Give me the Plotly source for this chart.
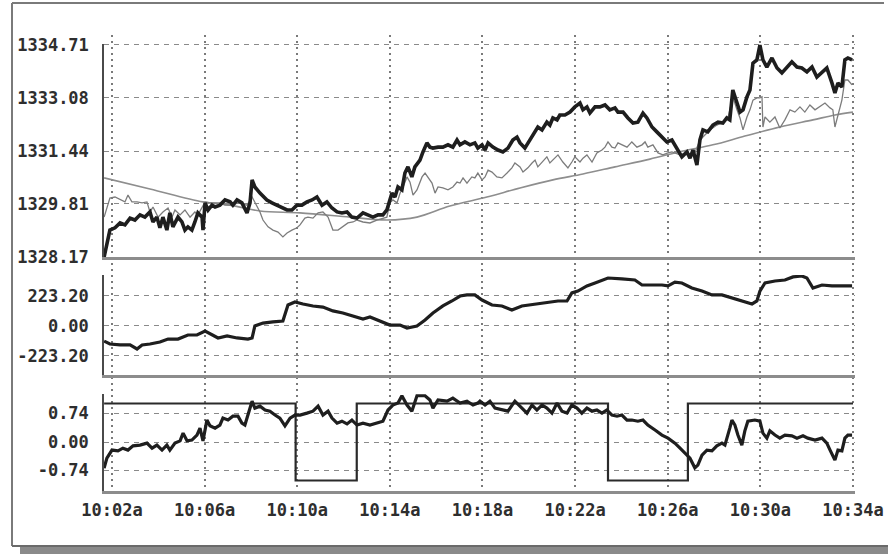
import plotly.graph_objects as go

# ---------------------------------------------------------------------------
# Session data: time axis in minutes after 10:00
# ---------------------------------------------------------------------------
price_t = [1.66, 1.78, 1.91, 2.13, 2.35, 2.56, 2.78, 2.99, 3.21, 3.42, 3.64, 3.77,
           3.94, 4.07, 4.20, 4.37, 4.50, 4.63, 4.85, 5.02, 5.15, 5.28, 5.45, 5.58,
           5.71, 5.89, 5.93, 6.02, 6.15, 6.32, 6.45, 6.66, 6.88, 7.10, 7.22, 7.40,
           7.61, 7.83, 7.96, 8.05, 8.17, 8.39, 8.69, 8.91, 9.12, 9.34, 9.56, 9.77,
           9.99, 10.20, 10.42, 10.64, 10.85, 11.07, 11.28, 11.50, 11.72, 11.93, 12.15,
           12.36, 12.58, 12.84, 13.05, 13.27, 13.49, 13.70, 13.87, 14.09, 14.22, 14.35,
           14.52, 14.65, 14.78, 14.95, 15.08, 15.30, 15.43, 15.60, 15.73, 15.86, 16.08,
           16.29, 16.51, 16.72, 16.90, 17.03, 17.24, 17.46, 17.67, 17.80, 17.98, 18.11,
           18.24, 18.45, 18.67, 18.88, 19.10, 19.31, 19.49, 19.62, 19.83, 20.05, 20.27,
           20.39, 20.57, 20.78, 20.91, 21.04, 21.22, 21.34, 21.56, 21.78, 21.99, 22.21,
           22.34, 22.51, 22.64, 22.86, 23.07, 23.29, 23.50, 23.72, 23.85, 24.07, 24.28,
           24.50, 24.71, 24.93, 25.10, 25.32, 25.53, 25.75, 25.96, 26.18, 26.40, 26.61,
           26.83, 26.96, 27.09, 27.26, 27.39, 27.52, 27.73, 27.95, 28.17, 28.38, 28.55,
           28.68, 28.81, 28.99, 29.12, 29.25, 29.42, 29.55, 29.68, 29.85, 29.98, 30.11,
           30.28, 30.50, 30.72, 30.93, 31.15, 31.36, 31.58, 31.79, 32.01, 32.23, 32.44,
           32.66, 32.87, 33.09, 33.22, 33.35, 33.52, 33.65, 33.78, 33.96]
price_v = [1328.17, 1328.60, 1329.00, 1329.07, 1329.22, 1329.16, 1329.37, 1329.31,
           1329.47, 1329.40, 1329.56, 1329.25, 1329.40, 1329.07, 1329.40, 1329.00,
           1329.53, 1329.10, 1329.40, 1329.25, 1329.00, 1329.10, 1329.00, 1329.25,
           1329.53, 1329.40, 1329.00, 1329.84, 1329.62, 1329.77, 1329.71, 1329.77,
           1329.93, 1329.87, 1329.77, 1329.93, 1329.84, 1329.53, 1329.84, 1330.55,
           1330.33, 1330.14, 1329.93, 1329.84, 1329.77, 1329.71, 1329.62, 1329.62,
           1329.77, 1329.77, 1329.87, 1329.93, 1330.02, 1329.77, 1329.87, 1329.68,
           1329.56, 1329.53, 1329.56, 1329.40, 1329.37, 1329.53, 1329.47, 1329.40,
           1329.47, 1329.47, 1329.62, 1330.14, 1330.02, 1330.33, 1330.24, 1330.76,
           1330.95, 1330.64, 1330.95, 1331.16, 1331.41, 1331.69, 1331.56, 1331.53,
           1331.56, 1331.56, 1331.63, 1331.56, 1331.78, 1331.63, 1331.72, 1331.63,
           1331.69, 1331.53, 1331.63, 1331.47, 1331.69, 1331.56, 1331.47, 1331.41,
           1331.53, 1331.78, 1331.87, 1331.69, 1331.53, 1331.78, 1332.00, 1332.18,
           1332.09, 1332.33, 1332.24, 1332.46, 1332.40, 1332.55, 1332.55, 1332.64,
           1332.80, 1332.92, 1332.71, 1332.80, 1332.61, 1332.80, 1332.80, 1332.86,
           1332.71, 1332.77, 1332.64, 1332.64, 1332.46, 1332.30, 1332.33, 1332.61,
           1332.46, 1332.18, 1332.03, 1331.87, 1331.72, 1331.78, 1331.53, 1331.26,
           1331.41, 1331.22, 1331.47, 1331.01, 1331.78, 1332.09, 1332.03, 1332.24,
           1332.33, 1332.30, 1332.46, 1332.40, 1333.32, 1332.95, 1332.64, 1332.71,
           1333.11, 1333.32, 1334.15, 1334.25, 1334.71, 1334.25, 1334.03, 1334.31,
           1334.00, 1333.85, 1334.03, 1334.19, 1334.03, 1334.00, 1333.88, 1334.03,
           1333.72, 1333.88, 1334.00, 1333.54, 1333.23, 1333.54, 1333.41, 1334.25,
           1334.31, 1334.25]

fast_t = [1.66, 1.78, 1.91, 2.13, 2.35, 2.56, 2.69, 2.86, 3.08, 3.30, 3.51, 3.64,
          3.77, 3.99, 4.20, 4.42, 4.59, 4.72, 4.94, 5.15, 5.37, 5.58, 5.71, 5.89,
          6.02, 6.23, 6.45, 6.66, 6.88, 7.18, 7.44, 7.83, 8.05, 8.26, 8.39, 8.52,
          8.74, 8.95, 9.17, 9.38, 9.56, 9.77, 9.99, 10.12, 10.33, 10.46, 10.68, 10.90,
          11.11, 11.33, 11.54, 11.76, 11.97, 12.19, 12.41, 12.58, 12.84, 13.14, 13.44,
          13.70, 13.87, 14.00, 14.13, 14.31, 14.44, 14.57, 14.74, 14.87, 15.00, 15.17,
          15.39, 15.52, 15.65, 15.82, 15.95, 16.08, 16.29, 16.51, 16.72, 16.90, 17.03,
          17.16, 17.33, 17.54, 17.67, 17.80, 17.98, 18.11, 18.24, 18.41, 18.62, 18.84,
          19.06, 19.27, 19.40, 19.62, 19.75, 19.96, 20.14, 20.27, 20.39, 20.57, 20.78,
          20.91, 21.13, 21.26, 21.47, 21.69, 21.86, 21.99, 22.21, 22.34, 22.51, 22.73,
          22.94, 23.16, 23.29, 23.42, 23.59, 23.72, 23.85, 24.02, 24.24, 24.45, 24.67,
          24.89, 25.02, 25.14, 25.36, 25.58, 25.79, 26.01, 26.18, 26.53, 26.74, 26.96,
          27.17, 27.39, 27.52, 27.82, 28.12, 28.38, 28.60, 28.81, 28.99, 29.12, 29.25,
          29.42, 29.55, 29.68, 29.85, 29.98, 30.07, 30.11, 30.20, 30.41, 30.63, 30.84,
          31.06, 31.28, 31.49, 31.71, 31.92, 32.14, 32.36, 32.57, 32.79, 33.01, 33.13,
          33.22, 33.35, 33.52, 33.65, 33.78, 33.96]
fast_v = [1329.40, 1329.71, 1329.99, 1330.02, 1329.93, 1329.87, 1330.08, 1329.87,
          1329.87, 1329.84, 1329.87, 1329.56, 1329.71, 1329.40, 1329.56, 1329.68,
          1329.40, 1329.62, 1329.47, 1329.62, 1329.40, 1329.56, 1329.47, 1329.71,
          1329.87, 1329.84, 1329.84, 1329.84, 1329.77, 1329.77, 1329.84, 1329.77,
          1330.02, 1329.71, 1329.56, 1329.31, 1329.10, 1329.00, 1328.94, 1328.79,
          1328.91, 1329.00, 1329.07, 1329.16, 1329.37, 1329.40, 1329.37, 1329.53,
          1329.56, 1329.40, 1329.00, 1329.00, 1329.10, 1329.22, 1329.25, 1329.31,
          1329.25, 1329.22, 1329.31, 1329.37, 1329.40, 1329.84, 1329.93, 1329.84,
          1330.14, 1330.33, 1330.64, 1330.48, 1330.08, 1330.24, 1330.64, 1330.76,
          1330.64, 1330.45, 1330.14, 1330.33, 1330.30, 1330.24, 1330.33, 1330.48,
          1330.45, 1330.61, 1330.45, 1330.64, 1330.61, 1330.76, 1330.55, 1330.64,
          1330.85, 1330.79, 1330.64, 1330.61, 1330.76, 1330.92, 1331.07, 1330.95,
          1330.79, 1330.92, 1331.07, 1331.16, 1330.95, 1331.10, 1331.26, 1331.07,
          1331.22, 1331.32, 1331.10, 1330.92, 1331.10, 1331.26, 1331.10, 1331.22,
          1331.32, 1331.10, 1331.38, 1331.47, 1331.56, 1331.72, 1331.56, 1331.53,
          1331.69, 1331.63, 1331.56, 1331.72, 1331.56, 1331.63, 1331.72, 1331.56,
          1331.63, 1331.38, 1331.32, 1331.38, 1331.41, 1331.32, 1331.38, 1331.26,
          1331.38, 1331.78, 1331.87, 1332.09, 1332.24, 1332.33, 1332.46, 1333.11,
          1332.71, 1332.46, 1332.09, 1332.49, 1332.71, 1333.01, 1333.08, 1333.08,
          1333.11, 1332.18, 1332.49, 1332.33, 1332.49, 1332.15, 1332.40, 1332.71,
          1332.64, 1332.80, 1332.64, 1332.86, 1332.71, 1332.80, 1332.92, 1332.77,
          1332.71, 1332.18, 1332.55, 1333.01, 1333.63, 1333.63, 1333.48]

slow_t = [1.66, 3.64, 5.93, 7.10, 8.39, 10.12, 12.28, 13.87, 15.17, 16.59, 18.19,
          19.62, 21.04, 22.34, 23.72, 25.23, 26.66, 27.95, 29.33, 30.84, 32.27, 33.22,
          34.00]
slow_v = [1330.61, 1330.27, 1329.87, 1329.77, 1329.59, 1329.53, 1329.40, 1329.31,
          1329.40, 1329.74, 1330.02, 1330.30, 1330.55, 1330.73, 1330.95, 1331.19,
          1331.44, 1331.63, 1331.90, 1332.18, 1332.40, 1332.55, 1332.64]

flow_t = [1.66, 1.91, 2.35, 2.78, 3.08, 3.30, 3.64, 4.07, 4.42, 4.85, 5.28, 5.67,
          6.02, 6.32, 6.58, 6.97, 7.40, 7.87, 8.05, 8.17, 8.52, 8.95, 9.38, 9.60,
          9.90, 10.25, 10.68, 11.11, 11.54, 11.97, 12.41, 12.84, 13.14, 13.57, 14.00,
          14.44, 14.74, 15.17, 15.52, 15.86, 16.29, 16.68, 17.03, 17.33, 17.67, 17.98,
          18.41, 18.84, 19.27, 19.70, 20.27, 20.83, 21.26, 21.65, 21.86, 22.12, 22.51,
          22.86, 23.42, 24.02, 24.58, 24.89, 25.32, 25.75, 26.01, 26.31, 26.61, 27.04,
          27.48, 27.91, 28.34, 28.77, 29.20, 29.64, 29.85, 29.98, 30.20, 30.63, 31.06,
          31.41, 31.79, 32.01, 32.27, 32.66, 33.09, 33.52, 33.96]
flow_v = [-112, -134, -141, -141, -171, -141, -134, -119, -97, -97, -67, -67,
          -37, -67, -89, -74, -89, -97, -89, 0, 22, 30, 37, 156,
          179, 164, 149, 141, 112, 97, 74, 52, 67, 37, 7,
          7, -15, 0, 45, 97, 149, 186, 223, 231, 231, 193,
          156, 149, 119, 149, 164, 179, 186, 186, 246, 260, 298,
          320, 357, 350, 342, 305, 305, 305, 298, 327, 320, 283,
          260, 231, 231, 208, 186, 164, 186, 260, 320, 335, 342,
          365, 372, 357, 283, 305, 298, 298, 298]

osc_t = [1.66, 1.78, 2.00, 2.26, 2.47, 2.69, 2.91, 3.21, 3.51, 3.73, 3.94, 4.16,
         4.37, 4.50, 4.72, 4.94, 5.07, 5.24, 5.45, 5.67, 5.80, 5.93, 6.10, 6.23,
         6.45, 6.66, 6.79, 7.01, 7.22, 7.44, 7.61, 7.74, 7.87, 8.05, 8.17, 8.39,
         8.61, 8.82, 9.04, 9.25, 9.47, 9.69, 9.90, 10.12, 10.42, 10.68, 10.90, 11.11,
         11.33, 11.50, 11.72, 11.93, 12.15, 12.36, 12.58, 12.84, 13.14, 13.44, 13.70,
         13.92, 14.13, 14.35, 14.52, 14.74, 14.95, 15.17, 15.52, 15.73, 15.86, 16.08,
         16.47, 16.72, 17.03, 17.33, 17.59, 17.80, 17.89, 18.11, 18.32, 18.54, 18.84,
         19.10, 19.40, 19.70, 19.92, 20.14, 20.35, 20.57, 20.78, 21.00, 21.22, 21.43,
         21.65, 21.86, 22.08, 22.29, 22.51, 22.73, 22.94, 23.16, 23.37, 23.59, 23.81,
         24.02, 24.24, 24.45, 24.71, 24.93, 25.14, 25.45, 25.75, 26.01, 26.31, 26.53,
         26.74, 26.96, 27.17, 27.30, 27.48, 27.69, 27.91, 28.12, 28.34, 28.47, 28.68,
         28.77, 28.90, 29.03, 29.20, 29.33, 29.46, 29.76, 29.98, 30.11, 30.28, 30.41,
         30.63, 30.84, 31.06, 31.36, 31.58, 31.84, 32.05, 32.36, 32.66, 32.87, 33.01,
         33.22, 33.35, 33.52, 33.65, 33.78, 33.96]
osc_v = [-0.68, -0.42, -0.21, -0.23, -0.16, -0.21, -0.10, -0.08, -0.03, -0.16, -0.08, -0.21,
         -0.08, -0.21, -0.03, 0.03, 0.23, 0.03, 0.05, 0.18, 0.36, 0.03, 0.57, 0.42,
         0.36, 0.44, 0.62, 0.57, 0.67, 0.67, 0.49, 0.44, 0.70, 1.06, 0.88, 0.93,
         0.83, 0.80, 0.70, 0.62, 0.42, 0.62, 0.70, 0.70, 0.75, 0.80, 0.93, 0.70,
         0.80, 0.62, 0.49, 0.54, 0.47, 0.57, 0.44, 0.49, 0.44, 0.49, 0.54,
         0.83, 0.96, 1.01, 1.20, 0.96, 0.80, 1.20, 1.20, 1.09, 0.88, 1.09,
         1.06, 1.14, 1.01, 1.06, 0.96, 1.01, 1.06, 0.96, 1.06, 0.88, 0.83,
         0.80, 1.06, 0.88, 0.75, 0.96, 0.83, 0.96, 0.88, 0.75, 1.01, 0.80,
         0.75, 0.96, 0.88, 0.75, 0.88, 0.80, 0.83, 0.75, 0.83, 0.70, 0.67,
         0.70, 0.57, 0.57, 0.54, 0.57, 0.44, 0.31, 0.18, 0.10, -0.03, -0.16,
         -0.29, -0.42, -0.67, -0.60, -0.34, -0.21, -0.23, -0.10, -0.03, -0.08, 0.36,
         0.57, 0.44, 0.18, -0.08, 0.29, 0.54, 0.57, 0.54, 0.23, 0.10, 0.29,
         0.18, 0.10, 0.18, 0.16, 0.10, 0.16, 0.10, 0.05, 0.10, -0.03, -0.21,
         -0.47, -0.21, -0.23, 0.10, 0.18, 0.18]

# long/short regime (+1 / -1), held until the next switch
state_t = [1.66, 9.93, 12.57, 23.42, 26.87, 34.00]
state_v = [1, -1, 1, -1, 1, 1]

time_ticks = [2, 6, 10, 14, 18, 22, 26, 30, 34]
time_labels = ["10:02a", "10:06a", "10:10a", "10:14a", "10:18a",
               "10:22a", "10:26a", "10:30a", "10:34a"]
price_ticks = [1328.17, 1329.81, 1331.44, 1333.08, 1334.71]
flow_ticks = [-223.20, 0.00, 223.20]
osc_ticks = [-0.74, 0.00, 0.74]

# ---------------------------------------------------------------------------
# Layout geometry
# ---------------------------------------------------------------------------
W, H = 888, 554
X_DOM = [104 / W, 854.5 / W]
X_RANGE = [1.655, 34.065]

TICK_FONT = dict(family="DejaVu Sans Mono", size=17, color="#2e2e2e", weight="bold")
INK = "#1e1e1e"
GRID_H = "#8a8a8a"
GRID_V = "#7a7a7a"
BASELINE = "#8c8c8c"

fig = go.Figure()

# invisible carrier for the full-height time grid subplot
fig.add_trace(go.Scatter(x=[], y=[], xaxis="x", yaxis="y", showlegend=False,
                         hoverinfo="skip"))

# price panel
fig.add_trace(go.Scatter(x=slow_t, y=slow_v, xaxis="x2", yaxis="y2", mode="lines",
                         line=dict(color="#8e8e8e", width=1.6, shape="spline"),
                         hoverinfo="skip", showlegend=False))
fig.add_trace(go.Scatter(x=fast_t, y=fast_v, xaxis="x2", yaxis="y2", mode="lines",
                         line=dict(color="#7c7c7c", width=1.3),
                         hoverinfo="skip", showlegend=False))
fig.add_trace(go.Scatter(x=price_t, y=price_v, xaxis="x2", yaxis="y2", mode="lines",
                         line=dict(color=INK, width=3.6),
                         hoverinfo="skip", showlegend=False))

# flow panel
fig.add_trace(go.Scatter(x=flow_t, y=flow_v, xaxis="x3", yaxis="y3", mode="lines",
                         line=dict(color=INK, width=3.2),
                         hoverinfo="skip", showlegend=False))

# oscillator panel
fig.add_trace(go.Scatter(x=state_t, y=state_v, xaxis="x4", yaxis="y4", mode="lines",
                         line=dict(color="#2a2a2a", width=2.2, shape="hv"),
                         hoverinfo="skip", showlegend=False))
fig.add_trace(go.Scatter(x=osc_t, y=osc_v, xaxis="x4", yaxis="y4", mode="lines",
                         line=dict(color=INK, width=3.2),
                         hoverinfo="skip", showlegend=False))


def panel_x(anchor, labels=False):
    ax = dict(domain=X_DOM, range=X_RANGE, anchor=anchor, showgrid=False,
              zeroline=False, showline=True, linecolor=BASELINE, linewidth=3,
              ticks="", tickvals=time_ticks, fixedrange=True, automargin=False,
              showticklabels=labels)
    if labels:
        ax.update(ticktext=time_labels, tickfont=TICK_FONT, ticklabelstandoff=2)
    return ax


def panel_y(anchor, dom, rng, ticks, fmt):
    return dict(domain=dom, range=rng, anchor=anchor, showgrid=True,
                gridcolor=GRID_H, gridwidth=1, griddash="5px,5px",
                zeroline=False, showline=True, linecolor="#4a4a4a", linewidth=1.5,
                ticks="", tickvals=ticks, ticktext=[fmt.format(v) for v in ticks],
                tickfont=TICK_FONT, ticklabelstandoff=10, fixedrange=True,
                automargin=False)


fig.update_layout(
    width=W, height=H,
    margin=dict(l=0, r=0, t=0, b=0, autoexpand=False),
    paper_bgcolor="white",
    plot_bgcolor="rgba(0,0,0,0)",
    showlegend=False,
    # full-height dotted time grid running through all three panels
    xaxis=dict(domain=X_DOM, range=X_RANGE, anchor="y", tickvals=time_ticks,
               showgrid=True, gridcolor=GRID_V, gridwidth=1.5, griddash="2px,4px",
               showticklabels=False, showline=False, zeroline=False, ticks="",
               fixedrange=True, automargin=False),
    yaxis=dict(domain=[1 - 497 / H, 1 - 35 / H], range=[0, 1], anchor="x",
               showgrid=False, showticklabels=False, showline=False,
               zeroline=False, ticks="", fixedrange=True, automargin=False),
    xaxis2=panel_x("y2"),
    yaxis2=panel_y("x2", [1 - 257 / H, 1 - 43.5 / H], [1328.17, 1334.756],
                   price_ticks, "{:.2f}"),
    xaxis3=panel_x("y3"),
    yaxis3=panel_y("x3", [1 - 375 / H, 1 - 275 / H], [-364.6, 379.4],
                   flow_ticks, "{:.2f}"),
    xaxis4=panel_x("y4", labels=True),
    yaxis4=panel_y("x4", [1 - 491 / H, 1 - 394 / H], [-1.272, 1.246],
                   osc_ticks, "{:.2f}"),
)

# window frame with drop shadow
frame = "#7a7a7a"
fig.add_shape(type="rect", xref="paper", yref="paper",
              x0=20 / W, x1=1, y0=0, y1=1 - 546 / H,
              fillcolor="#8a8a8a", line=dict(width=0), layer="below")
fig.add_shape(type="line", xref="paper", yref="paper",
              x0=12 / W, x1=884 / W, y0=1 - 3 / H, y1=1 - 3 / H,
              line=dict(color=frame, width=2))
fig.add_shape(type="line", xref="paper", yref="paper",
              x0=12 / W, x1=12 / W, y0=1 - 546 / H, y1=1 - 3 / H,
              line=dict(color=frame, width=2))
fig.add_shape(type="line", xref="paper", yref="paper",
              x0=12 / W, x1=1, y0=1 - 546 / H, y1=1 - 546 / H,
              line=dict(color="#6a6a6a", width=2))

fig.write_html("out.html")
